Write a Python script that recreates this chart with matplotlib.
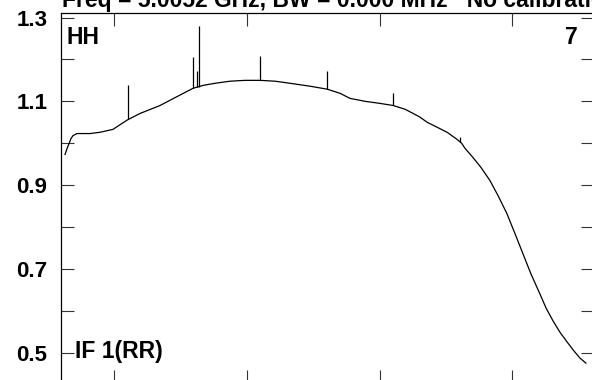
import matplotlib
matplotlib.use("Agg")
import matplotlib.pyplot as plt
from matplotlib.ticker import MultipleLocator, FixedLocator

# ---- data (channel, amplitude) ----
channel = [63.1, 64.6, 66.1, 67.6, 69.1, 72.1, 81.9, 89.4, 99.2, 109.8,
           119.6, 134.7, 143.7, 159.5, 167.1, 176.1, 187.4, 198.7, 210.0,
           221.3, 232.6, 247.7, 260.5, 270.3, 277.7, 289.0, 300.3, 310.2,
           319.2, 325.3, 330.5, 335.8, 343.4, 350.9, 358.4, 361.8, 364.3,
           370.3, 376.4, 383.1, 389.2, 395.9, 402.0, 408.0, 414.0, 420.8,
           425.3, 430.6, 435.8, 441.1, 446.4, 450.9, 455.4]
amplitude = [0.973, 0.987, 0.999, 1.011, 1.018, 1.023, 1.023, 1.026, 1.033,
             1.055, 1.071, 1.090, 1.105, 1.131, 1.138, 1.143, 1.148, 1.150,
             1.150, 1.148, 1.143, 1.136, 1.129, 1.119, 1.107, 1.100, 1.095,
             1.090, 1.081, 1.071, 1.062, 1.050, 1.038, 1.026, 1.009, 1.000,
             0.988, 0.966, 0.942, 0.911, 0.875, 0.832, 0.784, 0.736, 0.688,
             0.640, 0.607, 0.576, 0.549, 0.526, 0.504, 0.487, 0.475]

spike_channel = [110.5, 159.5, 162.5, 164.0, 210.0, 260.5, 310.2, 360.7]
spike_base = [1.057, 1.131, 1.133, 1.134, 1.150, 1.129, 1.090, 1.002]
spike_top = [1.138, 1.205, 1.172, 1.280, 1.208, 1.172, 1.119, 1.014]

ytick_labels = ["0.5", "0.7", "0.9", "1.1", "1.3"]
ytick_values = [0.5, 0.7, 0.9, 1.1, 1.3]
xtick_values = [100, 200, 300, 400]

title_text = "Freq = 5.0052 GHz, BW = 0.000 MHz   No calibration"
pol_label = "HH"
corner_label = "7"
if_label = "IF 1(RR)"

# ---- figure ----
W, H = 592, 380
fig = plt.figure(figsize=(W / 100, H / 100), dpi=100)
plt.rcParams['font.family'] = ['Liberation Sans', 'DejaVu Sans']

left_px, right_px, top_px, bottom_px = 60.5, 594, 13, 383
ax = fig.add_axes([left_px / W, 1 - bottom_px / H,
                   (right_px - left_px) / W, (bottom_px - top_px) / H])

ax.plot(channel, amplitude, color="black", lw=0.9)
ax.vlines(spike_channel, spike_base, spike_top, color="black", lw=0.9)

ax.set_xlim(59.7, 461.5)
ax.set_ylim(0.4275, 1.3108)

ax.yaxis.set_major_locator(FixedLocator(ytick_values))
ax.set_yticklabels(ytick_labels)
ax.yaxis.set_minor_locator(MultipleLocator(0.1))
ax.xaxis.set_major_locator(FixedLocator(xtick_values))
ax.set_xticklabels([])

for which in ("major", "minor"):
    ax.tick_params(axis="both", which=which, direction="in", length=9.4,
                   width=0.8, color="#333333", top=True, right=True,
                   bottom=True, left=True)
ax.tick_params(axis="y", which="major", pad=9.5, labelsize=16)
for lab in ax.get_yticklabels():
    lab.set_fontweight("bold")

for sp in ax.spines.values():
    sp.set_linewidth(0.9)

fs = 16.5
fig.text(67 / W, 1 - 44.5 / H, pol_label, fontsize=fs, fontweight="bold",
         ha="left", va="baseline")
fig.text(578 / W, 1 - 44.5 / H, corner_label, fontsize=fs, fontweight="bold",
         ha="right", va="baseline")
fig.text(75 / W, 1 - 358 / H, if_label, fontsize=fs, fontweight="bold",
         ha="left", va="baseline")
fig.text(62 / W, 1 - 6.5 / H, title_text, fontsize=fs, fontweight="bold",
         ha="left", va="baseline")

fig.savefig("out.png", dpi=100)
